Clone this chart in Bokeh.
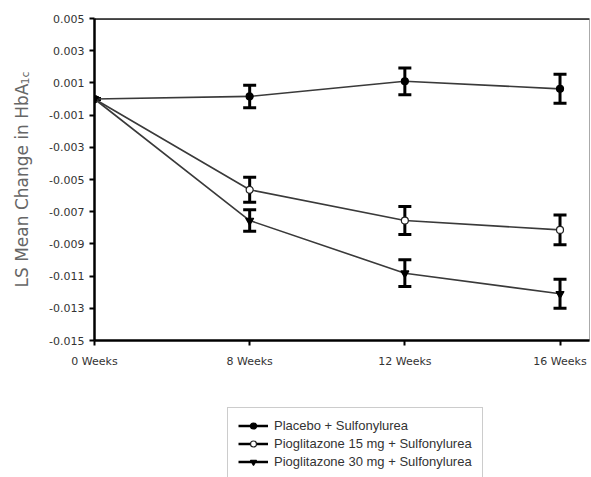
import math
from bokeh.plotting import figure
from bokeh.layouts import column, row
from bokeh.models import (ColumnDataSource, Range1d, FixedTicker, Whisker, TeeHead,
                          Legend, LegendItem, Label, Span, NumeralTickFormatter)
from bokeh.embed import file_html
from bokeh.resources import INLINE

# ---- data ----
weeks = ["0 Weeks", "8 Weeks", "12 Weeks", "16 Weeks"]
series_names = ["Placebo + Sulfonylurea",
                "Pioglitazone 15 mg + Sulfonylurea",
                "Pioglitazone 30 mg + Sulfonylurea"]
placebo = [0.0, 0.00016, 0.0011, 0.00063]
placebo_err = [0.0, 0.0007, 0.00083, 0.0009]
pio15 = [0.0, -0.00564, -0.00755, -0.00813]
pio15_err = [0.0, 0.00078, 0.00087, 0.00093]
pio30 = [0.0, -0.00755, -0.01082, -0.0121]
pio30_err = [0.0, 0.00067, 0.00083, 0.0009]
y_ticks = [0.005, 0.003, 0.001, -0.001, -0.003, -0.005, -0.007, -0.009, -0.011, -0.013, -0.015]

xpos = list(range(len(weeks)))

# ---- left strip holding the y axis title (its frame spans the chart's frame height) ----
pl = figure(width=40, height=395, output_backend="svg", toolbar_location=None,
            x_range=Range1d(0, 40), y_range=Range1d(0, 322),
            x_axis_location=None, y_axis_location=None, min_border=0)
pl.xgrid.visible = False
pl.ygrid.visible = False
pl.outline_line_color = None
pl.add_layout(Label(x=21, y=53, angle=math.pi / 2,
                    text="LS Mean Change in HbA", text_font="DejaVu Sans", text_font_size="17px",
                    text_color="#666666", text_align="left", text_baseline="alphabetic"))
pl.add_layout(Label(x=24.5, y=256, angle=math.pi / 2,
                    text="1c", text_font="DejaVu Sans", text_font_size="11px",
                    text_color="#666666", text_align="left", text_baseline="alphabetic"))

# ---- main chart ----
p = figure(width=551, height=395, output_backend="svg", toolbar_location=None,
           x_range=Range1d(0, 3.19), y_range=Range1d(-0.015, 0.005),
           min_border_left=54, min_border_right=2, min_border_top=18, min_border_bottom=55)
p.xgrid.visible = False
p.ygrid.visible = False
p.outline_line_color = "#aaaaaa"
p.outline_line_width = 1
p.background_fill_color = "white"
p.border_fill_color = "white"

# top border line
p.add_layout(Span(location=0.005, dimension="width", line_color="black", line_width=2.5))

tick_font = "DejaVu Sans"
for ax in (p.xaxis[0], p.yaxis[0]):
    ax.axis_line_color = "black"
    ax.axis_line_width = 2.5
    ax.major_tick_line_color = "black"
    ax.major_tick_line_width = 2
    ax.major_tick_out = 5
    ax.major_tick_in = 0
    ax.minor_tick_line_color = None
    ax.major_label_text_font = tick_font
    ax.major_label_text_font_size = "11px"
    ax.major_label_text_color = "#333333"

p.xaxis.ticker = FixedTicker(ticks=xpos)
p.xaxis.major_label_overrides = {i: w for i, w in zip(xpos, weeks)}
p.xaxis.major_label_standoff = 9
p.yaxis.ticker = FixedTicker(ticks=y_ticks)
p.yaxis.formatter = NumeralTickFormatter(format="0.000")
p.yaxis.major_label_standoff = 5

line_color = "#3a3a3a"
styles = [("circle", "black", "black"), ("circle", "white", "#222222"), ("inverted_triangle", "black", "black")]
sources = []
for vals, errs, (mk, fill, edge) in zip([placebo, pio15, pio30], [placebo_err, pio15_err, pio30_err], styles):
    src = ColumnDataSource(dict(x=xpos, y=vals,
                                upper=[v + e for v, e in zip(vals, errs)],
                                lower=[v - e for v, e in zip(vals, errs)]))
    sources.append(src)
    p.line("x", "y", source=src, line_color=line_color, line_width=1.6)
    w = Whisker(base="x", upper="upper", lower="lower", source=src, dimension="height",
                line_color="black", line_width=3,
                upper_head=TeeHead(size=13, line_color="black", line_width=3),
                lower_head=TeeHead(size=13, line_color="black", line_width=3))
    p.add_layout(w)
    p.scatter("x", "y", source=src, marker=mk, size=7 if mk == "circle" else 8,
              fill_color=fill, line_color=edge, line_width=1.2)

# ---- legend panel below the chart ----
p2 = figure(width=591, height=82, output_backend="svg", toolbar_location=None,
            x_range=Range1d(0, 1), y_range=Range1d(0, 1),
            x_axis_location=None, y_axis_location=None, min_border=0)
p2.xgrid.visible = False
p2.ygrid.visible = False
p2.outline_line_color = None
items = []
for name, src, (mk, fill, edge) in zip(series_names, sources, styles):
    ln = p2.line("x", "y", source=src, line_color="black", line_width=2.5, visible=False)
    sc = p2.scatter("x", "y", source=src, marker=mk, size=7 if mk == "circle" else 8,
                    fill_color=fill, line_color=edge, line_width=1.2, visible=False)
    items.append(LegendItem(label=name, renderers=[ln, sc]))
legend = Legend(items=items, location=(227, -3), orientation="vertical",
                label_text_font="Liberation Sans", label_text_font_size="13px",
                label_text_color="#333333",
                glyph_width=30, glyph_height=15, label_height=15, label_standoff=6,
                spacing=3, padding=10, margin=0,
                border_line_color="#999999", border_line_width=1,
                background_fill_color="white", background_fill_alpha=1)
p2.add_layout(legend)

layout = column(row(pl, p, spacing=0), p2, spacing=0)
open("out.html", "w").write(file_html(layout, INLINE))
